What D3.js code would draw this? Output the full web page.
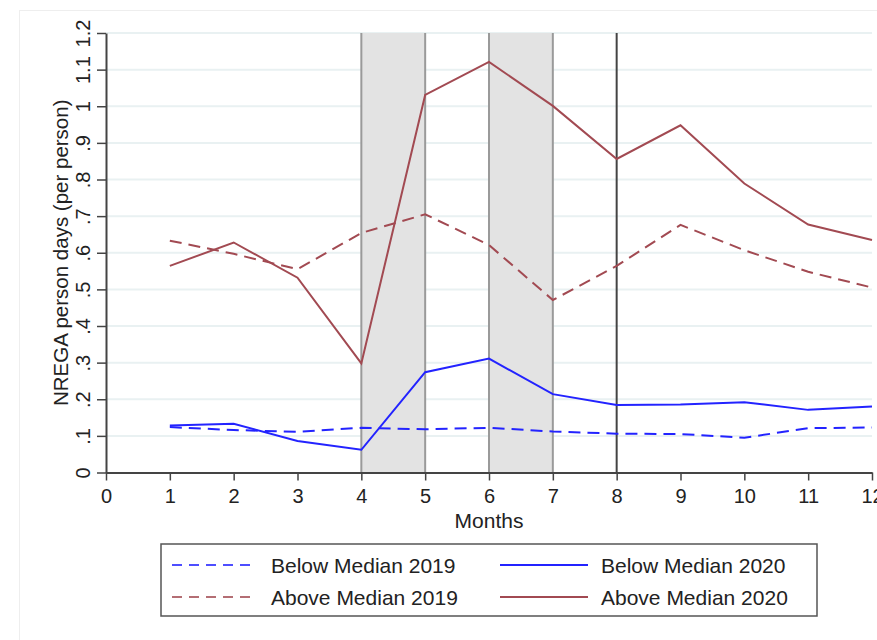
<!DOCTYPE html>
<html><head><meta charset="utf-8">
<script src="https://cdn.jsdelivr.net/npm/d3@7"></script>
<style>body{margin:0;background:#fff}text{font-family:"Liberation Sans",Arial,sans-serif;fill:#222}</style>
</head><body><svg id="c" width="877" height="640"></svg>
<script>
const months = [1,2,3,4,5,6,7,8,9,10,11,12];
const belowMedian2019 = [0.124,0.116,0.111,0.122,0.118,0.122,0.112,0.106,0.105,0.095,0.121,0.123];
const belowMedian2020 = [0.128,0.133,0.086,0.062,0.274,0.311,0.214,0.184,0.186,0.192,0.171,0.180];
const aboveMedian2019 = [0.633,0.597,0.555,0.654,0.705,0.621,0.471,0.564,0.676,0.607,0.548,0.505];
const aboveMedian2020 = [0.564,0.628,0.532,0.298,1.031,1.121,1.001,0.856,0.948,0.789,0.677,0.635];
const xTicks = [0,1,2,3,4,5,6,7,8,9,10,11,12];
const yTicks = [0,0.1,0.2,0.3,0.4,0.5,0.6,0.7,0.8,0.9,1.0,1.1,1.2];
const yTickLabels = ["0",".1",".2",".3",".4",".5",".6",".7",".8",".9","1","1.1","1.2"];
const shadedRanges = [[4,5],[6,7]];
const markerLine = 8;
const seriesNames = ["Below Median 2019","Below Median 2020","Above Median 2019","Above Median 2020"];

const BLUE = "#2323ff", MAROON = "#a24a52";
const svg = d3.select("#c");
const x = d3.scaleLinear().domain([0,12]).range([106,872]);
const y = d3.scaleLinear().domain([0,1.2]).range([472.5,33]);

// outer frame
svg.append("rect").attr("x",19.5).attr("y",10.5).attr("width",900).attr("height",700)
  .attr("fill","#fff").attr("stroke","#eeeeee");

// gridlines
svg.append("g").selectAll("line").data(yTicks.slice(1)).join("line")
  .attr("x1",x(0)).attr("x2",x(12)).attr("y1",d=>y(d)).attr("y2",d=>y(d))
  .attr("stroke","#e9f1f2").attr("stroke-width",2);

// shaded ranges
const sh = svg.append("g");
sh.selectAll("rect").data(shadedRanges).join("rect")
  .attr("x",d=>x(d[0])).attr("width",d=>x(d[1])-x(d[0]))
  .attr("y",y(1.2)).attr("height",y(0)-y(1.2)).attr("fill","#e3e3e3");
sh.selectAll("line").data(shadedRanges.flat()).join("line")
  .attr("x1",d=>x(d)).attr("x2",d=>x(d)).attr("y1",y(1.2)).attr("y2",y(0))
  .attr("stroke","#9a9a9a").attr("stroke-width",2);
svg.append("line").attr("x1",x(markerLine)).attr("x2",x(markerLine))
  .attr("y1",y(1.2)).attr("y2",y(0)).attr("stroke","#444").attr("stroke-width",2);

// series
const series = [
  {name:seriesNames[0], v:belowMedian2019, c:BLUE, dash:"12,7"},
  {name:seriesNames[1], v:belowMedian2020, c:BLUE, dash:null},
  {name:seriesNames[2], v:aboveMedian2019, c:MAROON, dash:"12,7"},
  {name:seriesNames[3], v:aboveMedian2020, c:MAROON, dash:null}
];
const line = d3.line().x((d,i)=>x(months[i])).y(d=>y(d));
svg.append("g").selectAll("path").data(series).join("path")
  .attr("d",s=>line(s.v)).attr("fill","none").attr("stroke",s=>s.c)
  .attr("stroke-width",2).attr("stroke-dasharray",s=>s.dash);

// axes
const ax = svg.append("g").attr("transform",`translate(0,${y(0)})`)
  .call(d3.axisBottom(x).tickValues(xTicks).tickSize(8).tickPadding(8).tickSizeOuter(0));
ax.select(".domain").attr("stroke","#444").attr("stroke-width",2);
ax.selectAll(".tick line").attr("stroke","#444").attr("stroke-width",1.5);
ax.selectAll(".tick text").style("font-size","20px").attr("fill","#222");

const ay = svg.append("g").attr("transform",`translate(${x(0)},0)`)
  .call(d3.axisLeft(y).tickValues(yTicks).tickFormat((d,i)=>yTickLabels[i]).tickSize(9).tickSizeOuter(0));
ay.select(".domain").attr("stroke","#444").attr("stroke-width",2);
ay.selectAll(".tick text").style("font-size","20px").attr("fill","#222")
  .attr("text-anchor","middle").attr("x",null).attr("dy",null)
  .attr("transform","translate(-16,0) rotate(-90)");
ay.selectAll(".tick line").attr("stroke","#444").attr("stroke-width",1.5);

svg.append("text").attr("x",x(6)).attr("y",528).attr("text-anchor","middle")
  .style("font-size","21px").text("Months");
svg.append("text").attr("transform",`translate(68,${(y(0)+y(1.2))/2}) rotate(-90)`)
  .attr("text-anchor","middle").style("font-size","20.5px").text("NREGA person days (per person)");

// legend
const lg = svg.append("g");
lg.append("rect").attr("x",161).attr("y",544).attr("width",656).attr("height",72)
  .attr("fill","#fff").attr("stroke","#555").attr("stroke-width",1.5);
const lpos = [[172,565],[500,565],[172,597],[500,597]];
series.forEach((s,i)=>{
  const [lx,ly] = lpos[i];
  lg.append("line").attr("x1",lx).attr("x2",lx+(s.dash?78:88)).attr("y1",ly).attr("y2",ly)
    .attr("stroke",s.c).attr("stroke-width",2).attr("stroke-dasharray",s.dash?"10,7":null)
    .attr("opacity",s.dash?0.8:1);
  lg.append("text").attr("x",lx+(s.dash?99:101)).attr("y",ly+7.5).style("font-size","21px").text(s.name);
});
</script></body></html>
